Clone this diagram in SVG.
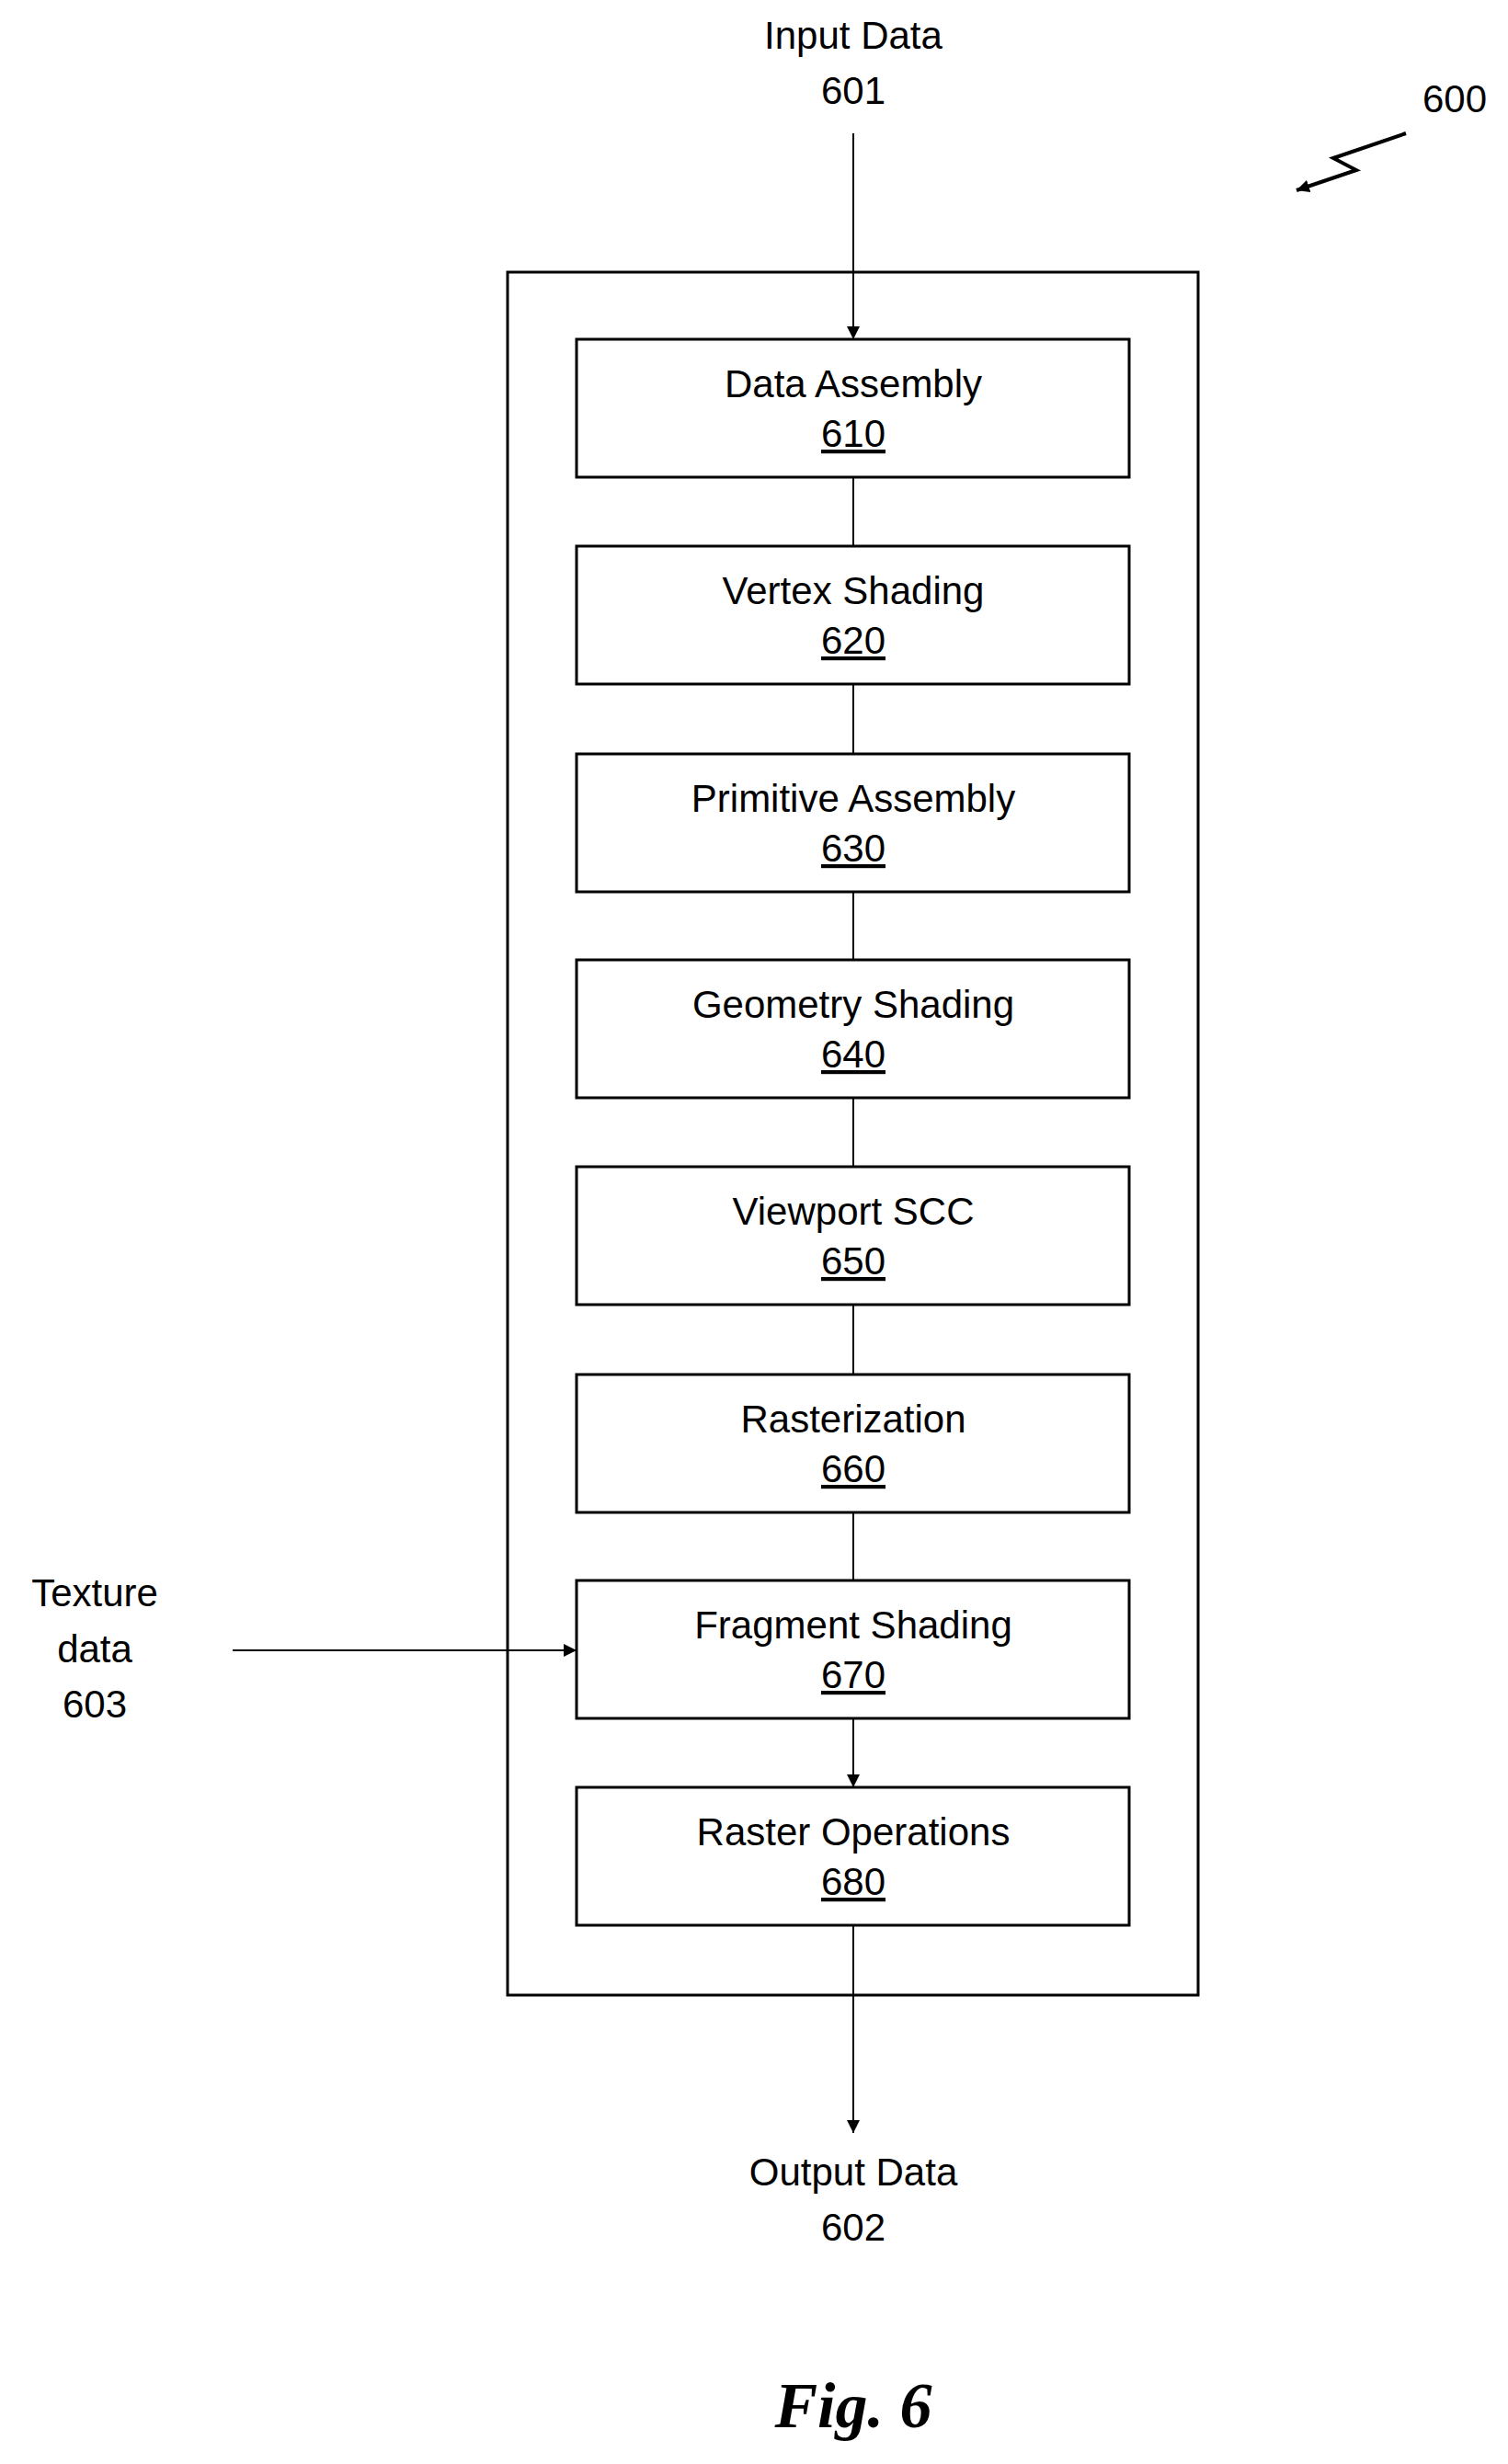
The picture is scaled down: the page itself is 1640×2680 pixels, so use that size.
<svg xmlns="http://www.w3.org/2000/svg" width="1640" height="2680" viewBox="0 0 1640 2680">
<style>
text{font-family:"Liberation Sans",Arial,sans-serif;font-size:42px;fill:#000;text-anchor:middle}
.b{fill:#fff;stroke:#000;stroke-width:3}
.c{stroke:#000;stroke-width:2;fill:none}
.u{text-decoration:underline}
</style>
<defs><marker id="a" viewBox="0 0 10 10" refX="10" refY="5" markerWidth="8" markerHeight="8" markerUnits="userSpaceOnUse" orient="auto"><path d="M0,0L10,5L0,10z"/></marker>
<marker id="a2" viewBox="0 0 10 10" refX="10" refY="5" markerWidth="14" markerHeight="14" markerUnits="userSpaceOnUse" orient="auto"><path d="M0,0L10,5L0,10z"/></marker></defs>
<rect x="552" y="296" width="751" height="1874" fill="none" stroke="#000" stroke-width="3"/>
<g id="connectors">
<path class="c" d="M928,145V369" marker-end="url(#a2)"/>
<path class="c" d="M928,519V594M928,744V820M928,970V1044M928,1194V1269M928,1419V1495M928,1645V1719M928,1869V1944" />
<path class="c" d="M928,575V594M928,801V820M928,1025V1044M928,1250V1269M928,1476V1495M928,1700V1719M928,1925V1944" marker-end="url(#a2)"/>
<path class="c" d="M253,1795H627" marker-end="url(#a2)"/>
<path class="c" d="M928,2094V2320" marker-end="url(#a2)"/>
<path stroke="#000" stroke-width="4" fill="none" d="M1529,145L1450,172L1475,185L1410,207" marker-end="url(#a2)"/>
</g>
<g id="n610"><rect class="b" x="627" y="369" width="601" height="150"/><text x="928" y="432">Data Assembly</text><text class="u" x="928" y="486">610</text></g>
<g id="n620"><rect class="b" x="627" y="594" width="601" height="150"/><text x="928" y="657">Vertex Shading</text><text class="u" x="928" y="711">620</text></g>
<g id="n630"><rect class="b" x="627" y="820" width="601" height="150"/><text x="928" y="883">Primitive Assembly</text><text class="u" x="928" y="937">630</text></g>
<g id="n640"><rect class="b" x="627" y="1044" width="601" height="150"/><text x="928" y="1107">Geometry Shading</text><text class="u" x="928" y="1161">640</text></g>
<g id="n650"><rect class="b" x="627" y="1269" width="601" height="150"/><text x="928" y="1332">Viewport SCC</text><text class="u" x="928" y="1386">650</text></g>
<g id="n660"><rect class="b" x="627" y="1495" width="601" height="150"/><text x="928" y="1558">Rasterization</text><text class="u" x="928" y="1612">660</text></g>
<g id="n670"><rect class="b" x="627" y="1719" width="601" height="150"/><text x="928" y="1782">Fragment Shading</text><text class="u" x="928" y="1836">670</text></g>
<g id="n680"><rect class="b" x="627" y="1944" width="601" height="150"/><text x="928" y="2007">Raster Operations</text><text class="u" x="928" y="2061">680</text></g>
<g id="in"><text x="928" y="53">Input Data</text><text x="928" y="113">601</text></g>
<g id="tex"><text x="103" y="1747">Texture</text><text x="103" y="1808">data</text><text x="103" y="1868">603</text></g>
<g id="out"><text x="928" y="2377">Output Data</text><text x="928" y="2437">602</text></g>
<text x="1582" y="122">600</text>
<text x="928" y="2640" style="font-family:'Liberation Serif',serif;font-weight:bold;font-style:italic;font-size:70px">Fig. 6</text>
</svg>
